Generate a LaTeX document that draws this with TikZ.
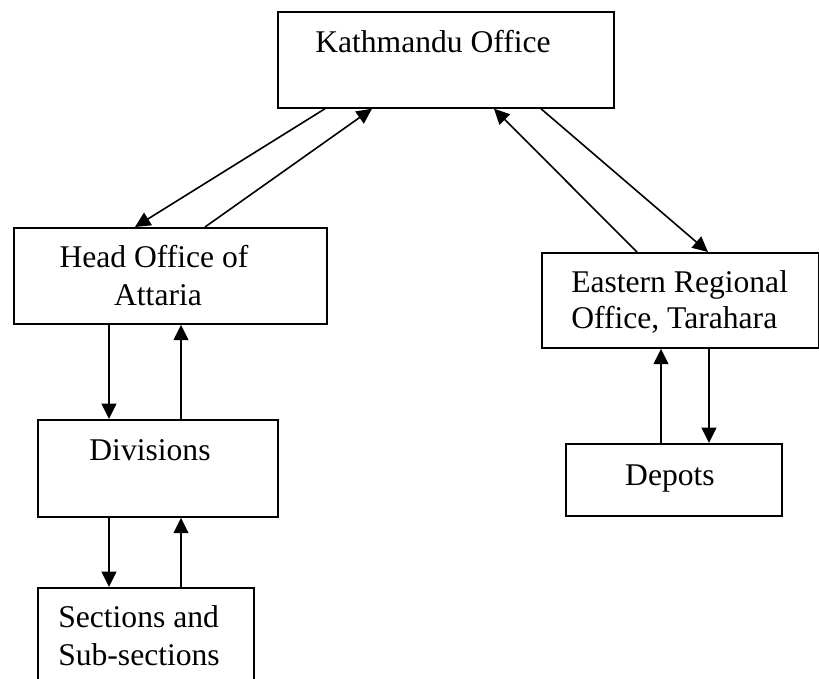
\documentclass[tikz,border=0pt]{standalone}
\usepackage{fontspec}
\setmainfont{Liberation Serif}
\usetikzlibrary{arrows.meta,calc}
\begin{document}
\begin{tikzpicture}[x=0.75pt,y=-0.75pt,
  office/.style={draw,line width=1.3pt,rectangle,inner sep=0pt,anchor=north west},
  lbl/.style={inner sep=0pt,font=\fontsize{23.7pt}{27.75pt}\selectfont},
  link/.style={line width=1.2pt,-{Triangle[length=11.5pt,width=11pt]}}]
\useasboundingbox (0,0) rectangle (819,679);

% office boxes
\node[office,minimum width=336*0.75pt,minimum height=96*0.75pt] (K) at (277,11) {};
\node[office,minimum width=313*0.75pt,minimum height=96*0.75pt] (H) at (13,227) {};
\node[office,minimum width=277*0.75pt,minimum height=95*0.75pt] (E) at (541,252) {};
\node[office,minimum width=240*0.75pt,minimum height=97*0.75pt] (D) at (37,419) {};
\node[office,minimum width=216*0.75pt,minimum height=100*0.75pt] (S) at (37,587) {};
\node[office,minimum width=216*0.75pt,minimum height=72*0.75pt] (P) at (565,443) {};

% labels
\node[lbl,anchor=base west] (kt) at (315,52) {Kathmandu Office};
\node[lbl,anchor=base] (ht1) at (154,267) {Head Office of};
\node[lbl,anchor=base] (ht2) at (158,305) {Attaria};
\node[lbl,anchor=base west] (et1) at (571,292) {Eastern Regional};
\node[lbl,anchor=base west] (et2) at (571,328) {Office, Tarahara};
\node[lbl,anchor=base] (dt) at (150,460) {Divisions};
\node[lbl,anchor=base] (pt) at (670,485) {Depots};
\node[lbl,anchor=base west] (st1) at (58,627) {Sections and};
\node[lbl,anchor=base west] (st2) at (58,665) {Sub-sections};

% Kathmandu <-> Head Office
\draw[link] ($(K.south west)+(48,0)$) -- ($(H.north west)+(122,0)$);
\draw[link] ($(H.north west)+(192,0)$) -- ($(K.south west)+(95,0)$);
% Kathmandu <-> Eastern Regional Office
\draw[link] ($(E.north west)+(96,0)$) -- ($(K.south west)+(217,0)$);
\draw[link] ($(K.south west)+(264,0)$) -- ($(E.north west)+(167,0)$);
% Head Office <-> Divisions
\draw[link] ($(H.south west)+(96,0)$) -- ($(D.north west)+(72,0)$);
\draw[link] ($(D.north west)+(144,0)$) -- ($(H.south west)+(168,0)$);
% Divisions <-> Sections
\draw[link] ($(D.south west)+(72,0)$) -- ($(S.north west)+(72,0)$);
\draw[link] ($(S.north west)+(144,0)$) -- ($(D.south west)+(144,0)$);
% Eastern Regional Office <-> Depots
\draw[link] ($(E.south west)+(168,0)$) -- ($(P.north west)+(144,0)$);
\draw[link] ($(P.north west)+(96,0)$) -- ($(E.south west)+(120,0)$);
\end{tikzpicture}
\end{document}
